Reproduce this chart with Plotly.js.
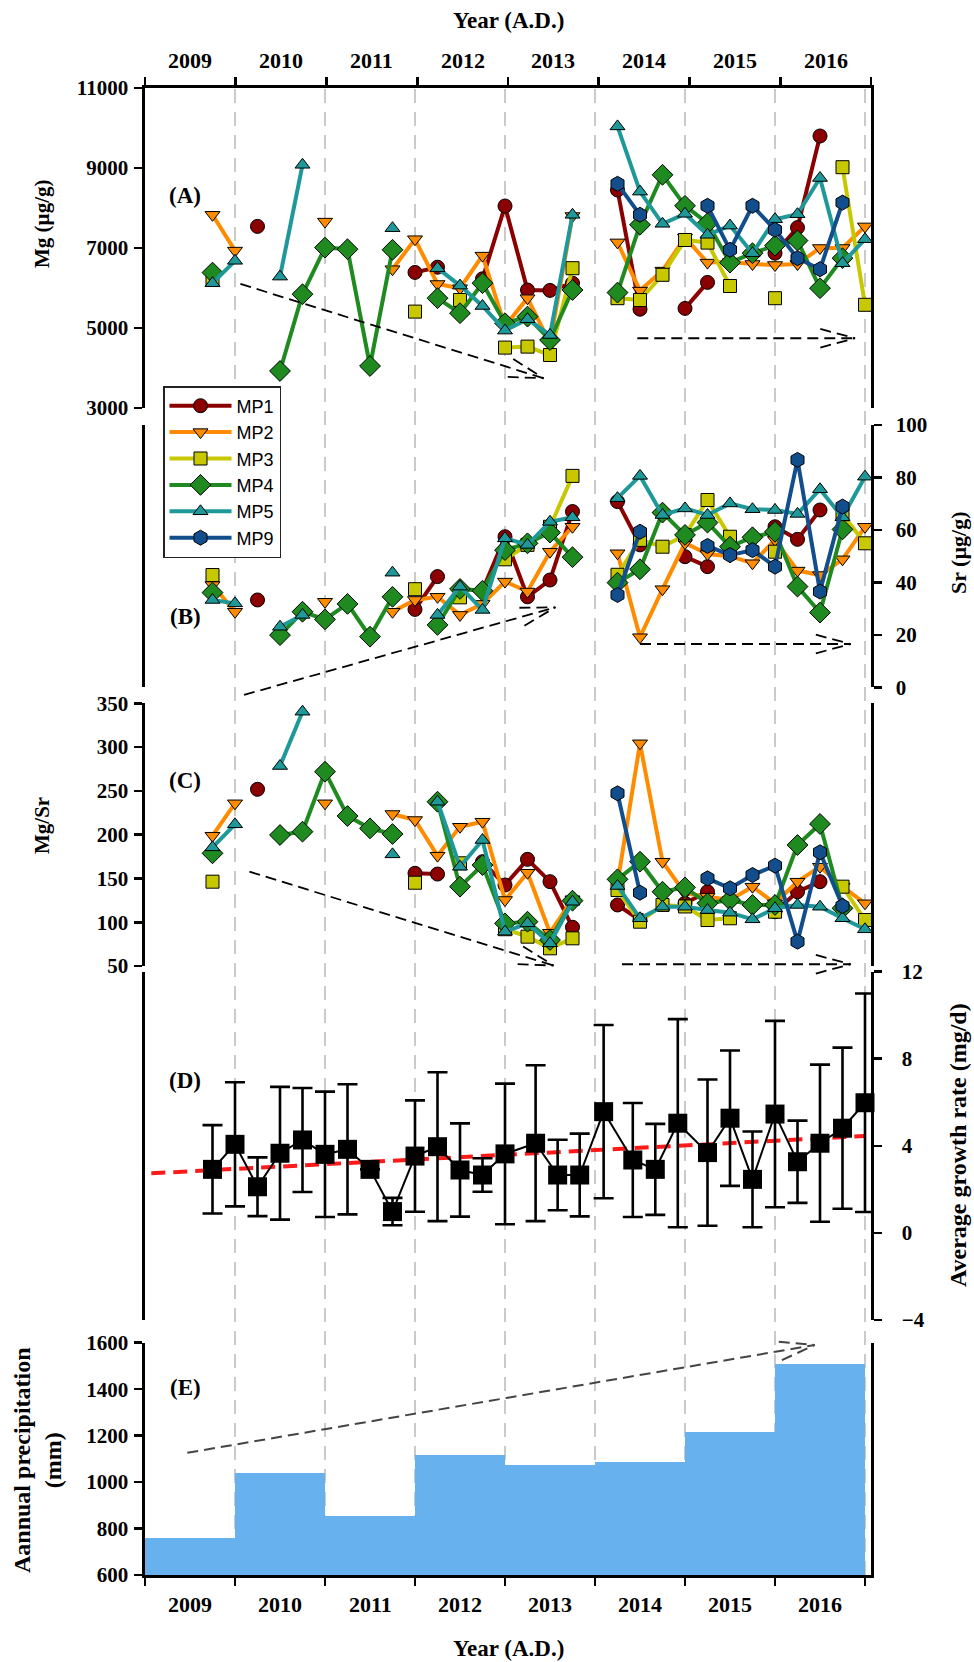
<!DOCTYPE html>
<html><head><meta charset="utf-8">
<script src="https://cdn.plot.ly/plotly-3.0.1.min.js"></script>
<style>html,body{margin:0;padding:0;background:#fff}#chart{width:974px;height:1662px}</style>
</head><body><div id="chart"></div>
<script>
const n = null;
// ---------- DATA ----------
const quarters = [2009.75,2010,2010.25,2010.5,2010.75,2011,2011.25,2011.5,2011.75,2012,2012.25,2012.5,2012.75,2013,2013.25,2013.5,2013.75,2014,2014.25,2014.5,2014.75,2015,2015.25,2015.5,2015.75,2016,2016.25,2016.5,2016.75,2017];
const yearLabels = ['2009','2010','2011','2012','2013','2014','2015','2016'];
const yearStarts = [2009,2010,2011,2012,2013,2014,2015,2016];
const yearBounds = [2009,2010,2011,2012,2013,2014,2015,2016,2017];

// Mg (µg/g)
const mgMP1 = [n,n,7540,n,n,n,n,n,n,6390,6520,n,6230,8050,5950,5940,6120,n,8450,5470,n,5490,6140,n,n,6870,7510,9800,n,n];
const mgMP2 = [7830,6935,n,n,n,7660,n,n,6470,7220,6100,5995,6810,5050,5745,4620,7800,n,7140,5935,6435,7260,6635,6650,6600,6575,6600,7000,7000,7540];
const mgMP3 = [6200,n,n,n,n,n,n,n,n,5410,n,5700,n,4510,4535,4325,6495,n,5745,5700,6330,7200,7135,6050,n,5745,n,n,9020,5580];
const mgMP4 = [6385,n,n,3925,5845,7010,6970,4050,6955,n,5745,5370,6120,5120,5285,4700,5950,n,5885,7580,8830,8055,7620,6635,6870,7060,7185,5995,6745,n];
const mgMP5 = [6120,6680,n,6285,9080,n,n,n,7495,n,6495,6060,5550,4935,5220,4825,7830,n,10040,8410,7605,7855,7330,7560,6870,7720,7845,8750,6620,7220];
const mgMP9 = [n,n,n,n,n,n,n,n,n,n,n,n,n,n,n,n,n,n,8605,7830,n,n,8055,6955,8055,7455,6745,6470,8135,n];

// Sr (µg/g)
const srMP1 = [n,n,33.3,n,n,n,n,n,n,29.7,42.2,n,37,57.4,34.5,40.9,67,n,70.8,54.3,n,49.8,46,n,n,61.2,56.4,67.6,n,n];
const srMP2 = [39,28.8,n,n,n,32.6,n,n,28.8,33.3,34.5,27.6,31.8,40.3,36.5,51.7,61.2,n,51.1,19.1,37.4,55,50.8,50,47.3,56.2,44.5,42.8,48.8,61.2];
const srMP3 = [42.8,n,n,n,n,n,n,n,n,37.4,n,34.3,n,48.8,54.3,61.2,80.6,n,42.9,56.2,53.6,58,71.4,57.4,n,51.7,n,n,66,54.9];
const srMP4 = [36.1,n,n,19.9,28.8,25.9,31.8,19.3,34.5,n,23.8,37.5,36.8,52.3,54.9,59,49.6,n,39.9,45,66.6,58.1,62.8,53.6,57.2,59.3,38.4,28.5,60.2,n];
const srMP5 = [33.3,32,n,23.1,27.6,n,n,n,43.7,n,27.6,38.4,29.5,56.8,54.3,63.1,64.8,n,72.1,80.6,65.7,68.2,65.7,70.1,67.9,67.6,66.1,75.5,64.8,80.3];
const srMP9 = [n,n,n,n,n,n,n,n,n,n,n,n,n,n,n,n,n,n,35.2,59.3,n,n,53.9,50.4,52.3,46,86.7,36.5,68.9,n];

// Mg/Sr
const ratioMP1 = [n,n,251.8,n,n,n,n,n,n,155.9,155,n,169.1,142.5,171.8,146.3,94.2,n,119.7,102.5,n,121.6,134.8,n,n,112,134.8,146.3,n,n];
const ratioMP2 = [198.8,235.8,n,n,n,235.8,n,n,223.6,216.7,176,209,214.8,125.4,156.5,88,126.2,n,144.4,304.3,169.1,133,129.2,125.4,140.6,121.6,146.3,163.4,140.6,121.6];
const ratioMP3 = [146.3,n,n,n,n,n,n,n,n,145.1,n,167.3,n,92,83.5,70.2,81.6,n,136.8,100.6,119.7,118,102.5,104.5,n,112,n,n,140.6,102.5];
const ratioMP4 = [178.7,n,n,199.6,203.4,271.9,221.3,207.2,200.7,n,237.6,140.6,165.3,98.7,100.6,79.7,124.6,n,149,169.1,134.8,139.8,121.6,125.4,119.7,119.7,188.2,212.2,115.9,n];
const ratioMP5 = [185.5,211.8,n,278.4,340.4,n,n,n,177.5,n,237.6,163.4,193.9,89.2,98.7,75.9,123.4,n,141.4,104.5,117.7,117.7,113.9,110.9,103.3,115.9,119.7,117.7,104.5,91.9];
const ratioMP9 = [n,n,n,n,n,n,n,n,n,n,n,n,n,n,n,n,n,n,247.2,133.7,n,n,150.1,138.7,153.9,164.6,77.8,179.8,118.5,n];

// Average growth rate (mg/d)
const growthX = [2009.75,2010,2010.25,2010.5,2010.75,2011,2011.25,2011.5,2011.75,2012,2012.25,2012.5,2012.75,2013,2013.34,2013.585,2013.83,2014.096,2014.42,2014.67,2014.92,2015.25,2015.5,2015.75,2016,2016.25,2016.5,2016.75,2017];
const growthMean = [2.92,4.07,2.12,3.66,4.27,3.61,3.84,2.92,0.98,3.53,3.96,2.89,2.66,3.63,4.12,2.66,2.66,5.57,3.35,2.92,5.04,3.69,5.27,2.46,5.46,3.27,4.12,4.81,5.98];
const growthSD = [2.03,2.85,1.35,3.05,2.39,2.88,2.99,0,0.63,2.56,3.42,2.14,0.77,3.23,3.58,1.62,1.9,3.98,2.62,2.09,4.78,3.36,3.11,2.2,4.28,1.89,3.61,3.7,5.02];
const trendX = [2009.07, 2017.0];
const trendY = [2.74, 4.45];

// Annual precipitation (mm)
const precipYears = [2009.5,2010.5,2011.5,2012.5,2013.5,2014.5,2015.5,2016.5];
const precip = [758,1040,854,1115,1073,1085,1217,1508];

// Trend arrows (data coordinates: [start, end])
const arrowAx1 = [2010.06, 2013.43], arrowAy1 = [6102, 3743];
const arrowAx2 = [2014.47, 2016.89], arrowAy2 = [4744, 4744];
const arrowBx1 = [2010.10, 2013.56], arrowBy1 = [-2.9, 30.5];
const arrowBx2 = [2014.50, 2016.84], arrowBy2 = [16.5, 16.5];
const arrowCx1 = [2010.16, 2013.54], arrowCy1 = [157.7, 50.5];
const arrowCx2 = [2014.30, 2016.84], arrowCy2 = [52, 52];
const arrowEx = [2009.47, 2016.44], arrowEy = [1126, 1590];

// ---------- STYLE / GEOMETRY ----------
const SERIF = 'Liberation Serif, Times New Roman, serif';
const SANS = 'Liberation Sans, Arial, sans-serif';
const FW = 974, FH = 1662;
const L = 145, R = 103, T = 88, B = 87;
const W = FW - L - R, H = FH - T - B;
const xr = [2009, 2009 + W / 90];
const dom = {y:[0.7848,1], y2:[0.59697,0.77337], y3:[0.40955,0.58621], y4:[0.17149,0.40572], y5:[0,0.15622]};
const rng = {y:[3000,11000], y2:[0,100], y3:[50,350], y4:[-4,12], y5:[600,1600]};

function xpx(x){ return L + (x - xr[0]) / (xr[1] - xr[0]) * W; }
function ypx(ax, v){ const d = dom[ax], r = rng[ax]; return T + (1 - (d[0] + (v - r[0]) / (r[1] - r[0]) * (d[1] - d[0]))) * H; }
const pxX = px => (px - L) / W;
const pxY = py => 1 - (py - T) / H;

const series = [
  {name:'MP1', color:'#8b0000', symbol:'circle', size:14, mg:mgMP1, sr:srMP1, ratio:ratioMP1},
  {name:'MP2', color:'#ff8c00', symbol:'triangle-down', size:13, mg:mgMP2, sr:srMP2, ratio:ratioMP2},
  {name:'MP3', color:'#c8c800', symbol:'square', size:13, mg:mgMP3, sr:srMP3, ratio:ratioMP3},
  {name:'MP4', color:'#1f8a1f', symbol:'diamond', size:16, mg:mgMP4, sr:srMP4, ratio:ratioMP4},
  {name:'MP5', color:'#1e9898', symbol:'triangle-up', size:13, mg:mgMP5, sr:srMP5, ratio:ratioMP5},
  {name:'MP9', color:'#124e8c', symbol:'hexagon', size:15, mg:mgMP9, sr:srMP9, ratio:ratioMP9}
];
const panels = [{key:'mg', axis:'y'}, {key:'sr', axis:'y2'}, {key:'ratio', axis:'y3'}];

const traces = [];
panels.forEach((p, pi) => {
  series.forEach(s => {
    traces.push({
      type:'scatter', mode:'lines+markers', x:quarters, y:s[p.key],
      xaxis:'x', yaxis:p.axis, name:s.name, legendgroup:s.name, showlegend: pi === 0,
      connectgaps:false, cliponaxis:false,
      line:{color:s.color, width:4},
      marker:{symbol:s.symbol, size:s.size, color:s.color, line:{color:'#000', width:1}},
      hoverinfo:'skip'
    });
  });
});
// growth rate
traces.push({
  type:'scatter', mode:'lines', x:trendX, y:trendY, xaxis:'x', yaxis:'y4', showlegend:false,
  line:{color:'#ff1a1a', width:4, dash:'14px,8px'}, hoverinfo:'skip'
});
traces.push({
  type:'scatter', mode:'lines+markers', x:growthX, y:growthMean, xaxis:'x', yaxis:'y4', showlegend:false,
  line:{color:'#000', width:2}, cliponaxis:false,
  marker:{symbol:'square', size:19, color:'#000'},
  error_y:{type:'data', array:growthSD, visible:true, color:'#000', thickness:2.6, width:10},
  hoverinfo:'skip'
});
// precipitation
traces.push({
  type:'bar', x:precipYears, y:precip, width:1, xaxis:'x', yaxis:'y5', showlegend:false,
  marker:{color:'#67b2ee', line:{width:0}}, hoverinfo:'skip'
});
// dummy for top axis
traces.push({type:'scatter', mode:'markers', x:[yearBounds[0]], y:[n], xaxis:'x2', yaxis:'y', showlegend:false, hoverinfo:'skip'});

const tickFont = {family:SERIF, size:21, color:'#000', weight:'bold'};
const yBase = {showline:true, linecolor:'#000', linewidth:2.6, ticks:'outside', ticklen:8, tickwidth:2.6, tickcolor:'#000',
  zeroline:false, showgrid:false, mirror:true, tickfont:tickFont, anchor:'x', fixedrange:true, ticklabelstandoff:2, tickformat:'d'};

const shapes = [];
// dashed vertical year lines
yearBounds.slice(1).forEach(v => {
  shapes.push({type:'line', xref:'x', yref:'paper', x0:v, x1:v, y0:0, y1:1, layer:'below',
    line:{color:'#bdbdbd', width:1.6, dash:'14px,9px'}});
});
function seg(xa, ya, xb, yb, color, width){
  return {type:'line', xref:'paper', yref:'paper', x0:pxX(xa), y0:pxY(ya), x1:pxX(xb), y1:pxY(yb),
    line:{color:color, width:width, dash:'11px,6px'}};
}
function arrow(ax, xs, ys, color, width){
  const x0 = xpx(xs[0]), y0 = ypx(ax, ys[0]), x1 = xpx(xs[1]), y1 = ypx(ax, ys[1]);
  shapes.push(seg(x0, y0, x1, y1, color, width));
  const a = Math.atan2(y0 - y1, x0 - x1);
  [-1, 1].forEach(sg => {
    const b = a + sg * 15 * Math.PI / 180;
    shapes.push(seg(x1 + 36 * Math.cos(b), y1 + 36 * Math.sin(b), x1, y1, color, width));
  });
}
arrow('y', arrowAx1, arrowAy1, '#000', 1.8);
arrow('y', arrowAx2, arrowAy2, '#000', 1.8);
arrow('y2', arrowBx1, arrowBy1, '#000', 1.8);
arrow('y2', arrowBx2, arrowBy2, '#000', 1.8);
arrow('y3', arrowCx1, arrowCy1, '#000', 1.8);
arrow('y3', arrowCx2, arrowCy2, '#000', 1.8);
arrow('y5', arrowEx, arrowEy, '#444', 2);

const annotations = [];
function txt(text, x, y, font, extra){
  return Object.assign({text:text, xref:'paper', yref:'paper', x:pxX(x), y:pxY(y), showarrow:false, font:font,
    xanchor:'center', yanchor:'middle'}, extra || {});
}
const labFont = {family:SERIF, size:22, color:'#000', weight:'bold'};
yearLabels.forEach((t, i) => {
  annotations.push({text:t, xref:'x', yref:'paper', x:yearStarts[i] + 0.5, y:pxY(1604), showarrow:false, font:labFont, xanchor:'center', yanchor:'middle'});
  annotations.push({text:t, xref:'x2', yref:'paper', x:yearStarts[i] + 0.5, y:pxY(60), showarrow:false, font:labFont, xanchor:'center', yanchor:'middle'});
});
const titleFont = {family:SERIF, size:23, color:'#000', weight:'bold'};
annotations.push(txt('Year (A.D.)', 508, 20, titleFont));
annotations.push(txt('Year (A.D.)', 508, 1648, titleFont));
const axFont = {family:SERIF, size:21, color:'#000', weight:'bold'};
const axFontBig = {family:SERIF, size:24, color:'#000', weight:'bold'};
annotations.push(txt('Mg (µg/g)', 42, 224, axFont, {textangle:-90}));
annotations.push(txt('Sr (µg/g)', 958, 553, {family:SERIF, size:22, color:'#000', weight:'bold'}, {textangle:-90}));
annotations.push(txt('Mg/Sr', 42, 826, axFont, {textangle:-90}));
annotations.push(txt('Average growth rate (mg/d)', 958, 1145, axFontBig, {textangle:-90}));
annotations.push(txt('Aannual precipitation<br>(mm)', 37, 1460, axFontBig, {textangle:-90}));
const panelFont = {family:SERIF, size:23, color:'#000', weight:'bold'};
[['(A)',196],['(B)',617],['(C)',780],['(D)',1080],['(E)',1387]].forEach(p => {
  annotations.push(txt(p[0], 185, p[1], panelFont));
});

const layout = {
  width:FW, height:FH, margin:{l:L, r:R, t:T, b:B, pad:0},
  paper_bgcolor:'#fff', plot_bgcolor:'rgba(0,0,0,0)',
  showlegend:true,
  legend:{x:pxX(163), y:pxY(386), xanchor:'left', yanchor:'top', bgcolor:'#fff', bordercolor:'#222', borderwidth:1.5,
    font:{family:SANS, size:18, color:'#000'}, itemwidth:62, entrywidth:130, entrywidthmode:'pixels',
    tracegroupgap:0, traceorder:'normal'},
  xaxis:{domain:[0,1], range:xr, anchor:'y5', side:'bottom', showline:true, linecolor:'#000', linewidth:2.6,
    ticks:'outside', ticklen:8, tickwidth:2.6, tickcolor:'#000', tickvals:yearBounds, showticklabels:false,
    showgrid:false, zeroline:false, fixedrange:true},
  xaxis2:{overlaying:'x', range:[yearBounds[0], yearBounds[yearBounds.length-1]], anchor:'y', side:'top', showline:true, linecolor:'#000', linewidth:2.6,
    ticks:'outside', ticklen:8, tickwidth:2.6, tickcolor:'#000', tickvals:yearBounds, showticklabels:false,
    showgrid:false, zeroline:false, fixedrange:true},
  yaxis:Object.assign({}, yBase, {domain:dom.y, range:rng.y, side:'left', tickvals:[3000,5000,7000,9000,11000]}),
  yaxis2:Object.assign({}, yBase, {domain:dom.y2, range:rng.y2, side:'right', tickvals:[0,20,40,60,80,100], ticklabelstandoff:10}),
  yaxis3:Object.assign({}, yBase, {domain:dom.y3, range:rng.y3, side:'left', tickvals:[50,100,150,200,250,300,350]}),
  yaxis4:Object.assign({}, yBase, {domain:dom.y4, range:rng.y4, side:'right', tickvals:[-4,0,4,8,12], ticklabelstandoff:16}),
  yaxis5:Object.assign({}, yBase, {domain:dom.y5, range:rng.y5, side:'left', tickvals:[600,800,1000,1200,1400,1600]}),
  bargap:0,
  shapes:shapes,
  annotations:annotations
};

Plotly.newPlot('chart', traces, layout, {staticPlot:true, displayModeBar:false});
</script>
</body></html>
